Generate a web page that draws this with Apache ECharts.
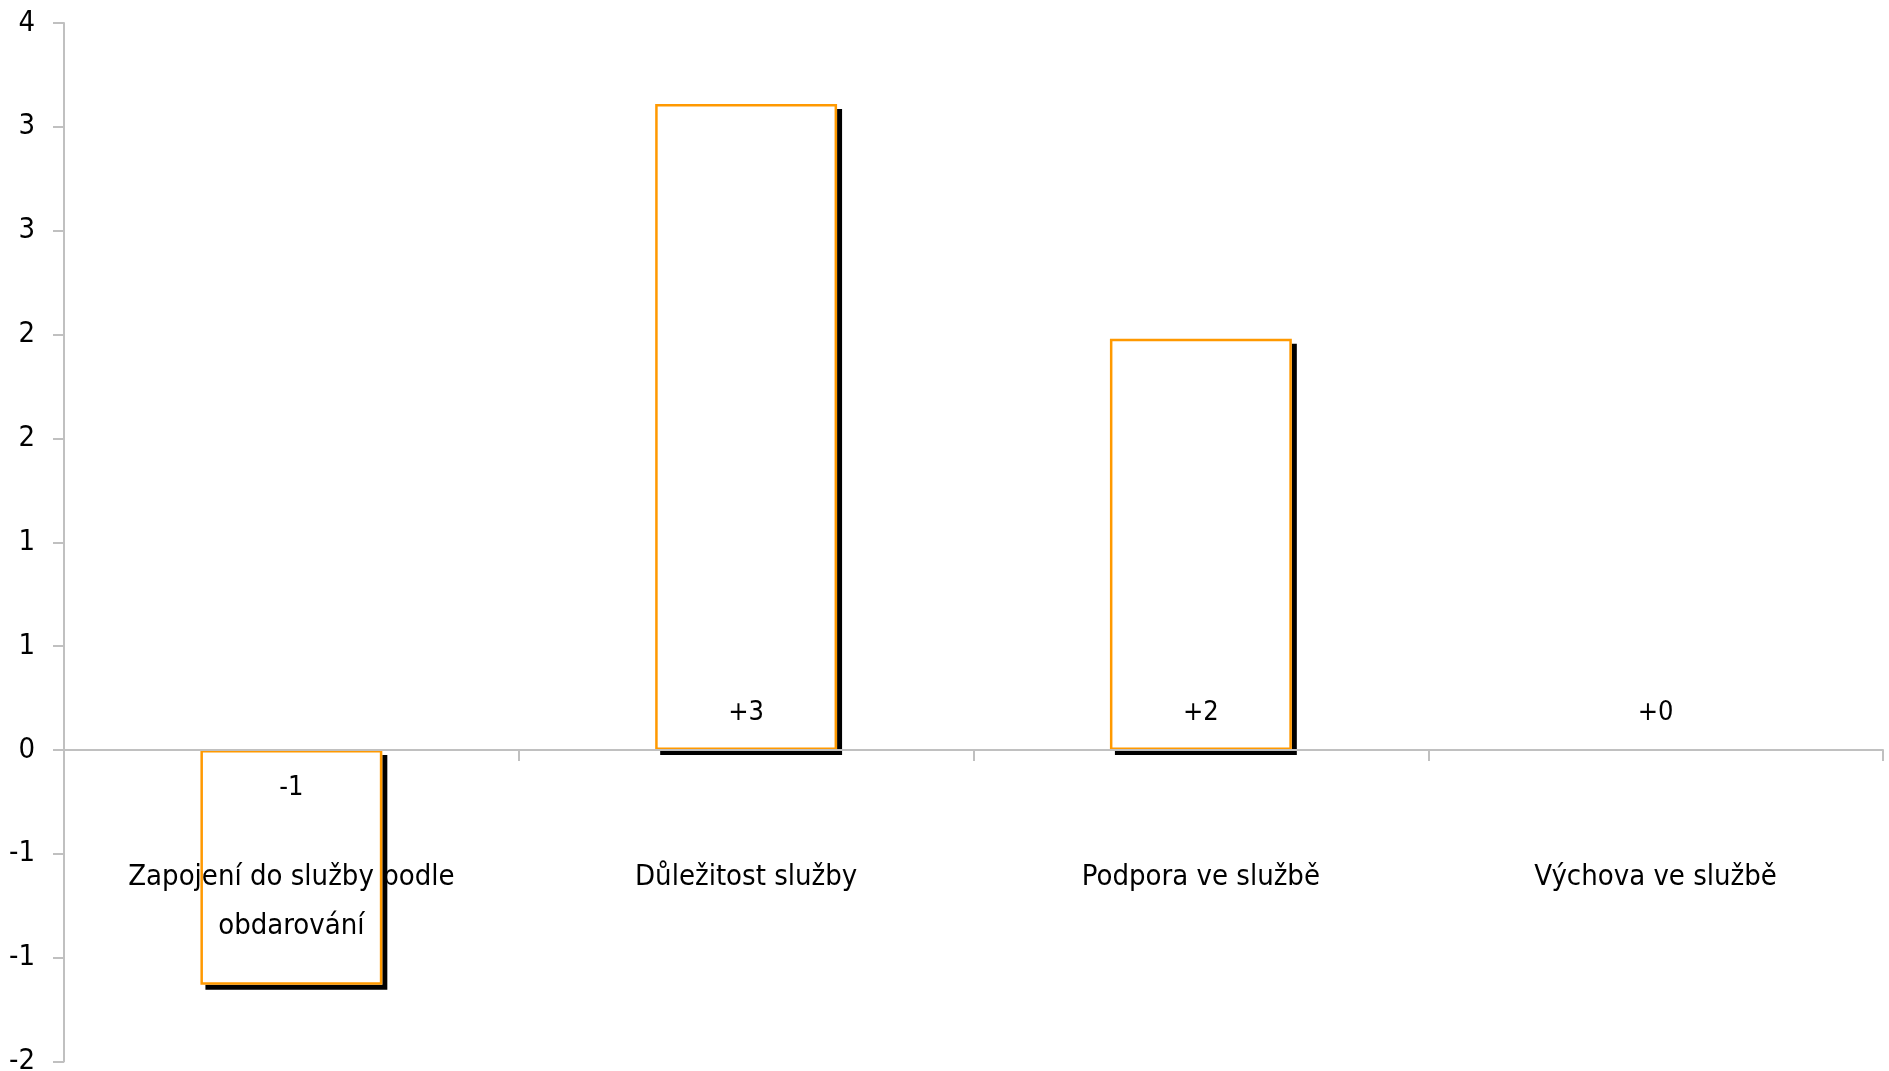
<!DOCTYPE html>
<html><head><meta charset="utf-8">
<script src="https://cdn.jsdelivr.net/npm/echarts@6/dist/echarts.min.js"></script>
<style>html,body{margin:0;padding:0;background:#fff}#c{width:1889px;height:1071px}</style>
</head><body><div id="c"></div>
<script>
const categories = ['Zapojení do služby podle\nobdarování', 'Důležitost služby', 'Podpora ve službě', 'Výchova ve službě'];
const values = [-1.13, 3.11, 1.98, 0];
const dataLabels = ['-1', '+3', '+2', '+0'];
const yTickValues = [3.5, 3, 2.5, 2, 1.5, 1, 0.5, 0, -0.5, -1, -1.5];
const yTickLabels = ['4', '3', '3', '2', '2', '1', '1', '0', '-1', '-1', '-2'];

const FONT = 'DejaVu Sans Condensed';
const chart = echarts.init(document.getElementById('c'), null, {renderer: 'canvas'});
const shadowData = values.map(v => {
  const item = {value: v};
  if (v === 0) item.itemStyle = {color: 'rgba(0,0,0,0)', shadowColor: 'rgba(0,0,0,0)'};
  return item;
});
const frameData = values.map((v, i) => {
  const item = {
    value: v,
    label: {position: v < 0 ? 'insideTop' : 'insideBottom', formatter: dataLabels[i]}
  };
  if (v === 0) item.itemStyle = {borderWidth: 0};
  return item;
});
chart.setOption({
  animation: false,
  grid: {left: 64, right: 6, top: 23, bottom: 9.4, containLabel: false, outerBoundsMode: 'none'},
  xAxis: {
    type: 'category',
    data: categories,
    z: 5,
    axisLine: {onZero: true, lineStyle: {color: '#c0c0c0', width: 2}},
    axisTick: {show: true, length: 11, lineStyle: {color: '#c0c0c0', width: 2}},
    axisLabel: {margin: -209, color: '#000', fontFamily: FONT, fontSize: 29, lineHeight: 49, interval: 0, hideOverlap: false}
  },
  yAxis: {
    type: 'value',
    min: -1.5, max: 3.5, interval: 0.5,
    z: 5,
    splitLine: {show: false},
    axisLine: {show: true, lineStyle: {color: '#c0c0c0', width: 2}},
    axisTick: {show: true, length: 11, lineStyle: {color: '#c0c0c0', width: 2}},
    axisLabel: {
      margin: 29, color: '#000', fontFamily: FONT, fontSize: 29,
      formatter: function (v) {
        for (let i = 0; i < yTickValues.length; i++) if (Math.abs(yTickValues[i] - v) < 1e-6) return yTickLabels[i];
        return '';
      }
    }
  },
  series: [{
    type: 'bar',
    data: shadowData,
    barWidth: '40%',
    barGap: '-100%',
    silent: true,
    itemStyle: {color: '#ffffff', borderWidth: 0, shadowColor: '#000', shadowOffsetX: 5, shadowOffsetY: 5, shadowBlur: 0}
  }, {
    type: 'bar',
    data: frameData,
    barWidth: '40%',
    barGap: '-100%',
    itemStyle: {color: 'rgba(0,0,0,0)', borderColor: '#ff9900', borderWidth: 2.5},
    label: {show: true, distance: 24, color: '#000', fontFamily: FONT, fontSize: 27}
  }]
});
</script></body></html>
